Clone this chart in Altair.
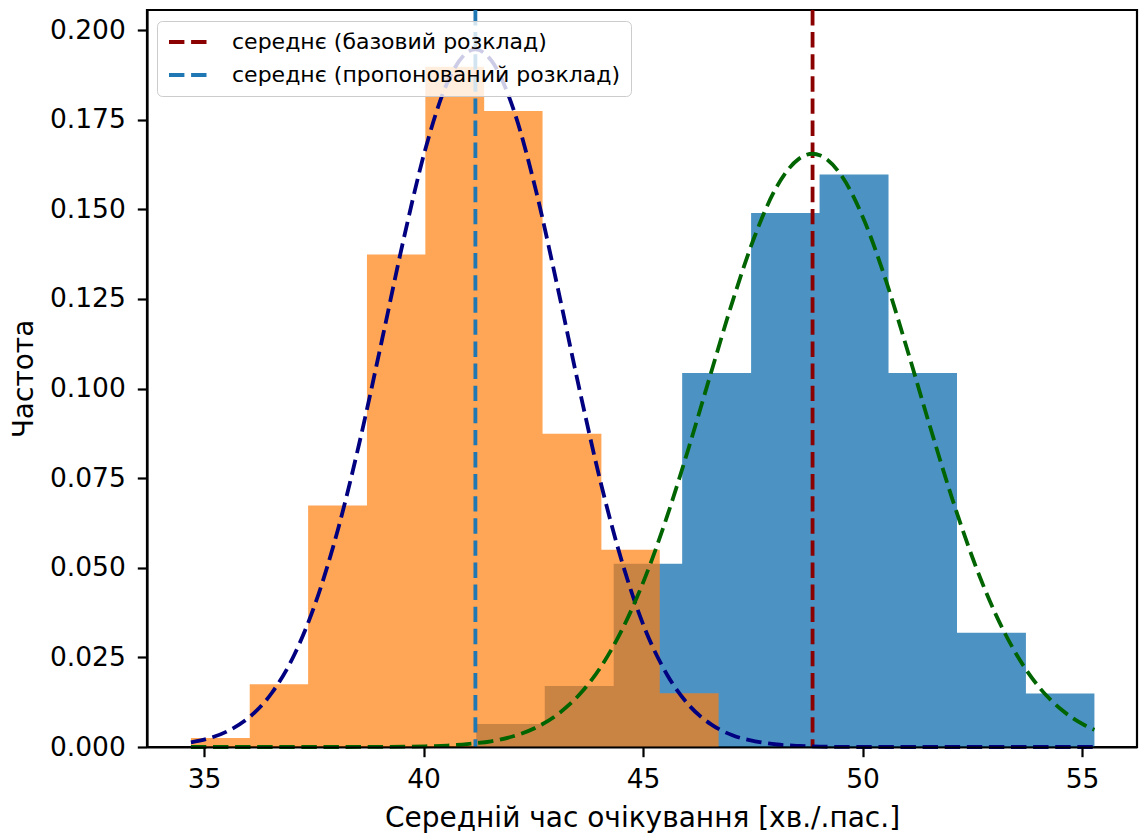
import altair as alt
import pandas as pd

# ---- data ----
base_label = "середнє (базовий розклад)"
prop_label = "середнє (пропонований розклад)"

# histogram of base schedule (blue) – bin edges and density heights
base_edges = [41.20, 42.76, 44.33, 45.89, 47.46, 49.02, 50.59, 52.15, 53.72, 55.28]
base_density = [0.0064, 0.0170, 0.0511, 0.1043, 0.1490, 0.1597, 0.1043, 0.0319, 0.0149]

# histogram of proposed schedule (orange)
prop_edges = [34.70, 36.04, 37.37, 38.71, 40.04, 41.38, 42.71, 44.05, 45.38, 46.72]
prop_density = [0.0025, 0.0175, 0.0674, 0.1374, 0.1898, 0.1774, 0.0874, 0.0550, 0.0150]

# means
base_mean = 48.86
prop_mean = 41.18

# fitted curve, proposed (navy)
prop_fit_x = [34.70, 35.05, 35.55, 36.05, 36.55, 37.05, 37.55, 38.05, 38.55, 39.05,
              39.55, 40.05, 40.55, 41.05, 41.18, 41.55, 42.05, 42.55, 43.05, 43.55,
              44.05, 44.55, 45.05, 45.55, 46.05, 46.55, 47.05, 47.55, 48.05, 48.55,
              49.05, 50.0, 51.0, 52.0, 53.0, 54.0, 55.28]
prop_fit_y = [0.0013, 0.0022, 0.0045, 0.0085, 0.0152, 0.0256, 0.0406, 0.0607, 0.0855, 0.1134,
              0.1419, 0.1672, 0.1856, 0.1942, 0.1946, 0.1914, 0.1778, 0.1557, 0.1284, 0.0998,
              0.0730, 0.0504, 0.0327, 0.0201, 0.0116, 0.0063, 0.0032, 0.0016, 0.0007, 0.0003,
              0.0001, 0.0, 0.0, 0.0, 0.0, 0.0, 0.0]

# fitted curve, base (green)
base_fit_x = [34.70, 36.0, 37.0, 38.0, 39.04, 40.04, 40.54, 41.04, 41.54, 42.04,
              42.54, 43.04, 43.54, 44.04, 44.54, 45.04, 45.54, 46.04, 46.54, 47.04,
              47.54, 48.04, 48.54, 48.86, 49.04, 49.54, 50.04, 50.54, 51.04, 51.54,
              52.04, 52.54, 53.04, 53.54, 54.04, 54.54, 55.04, 55.28]
base_fit_y = [0.0, 0.0, 0.0, 0.0, 0.00004, 0.0002, 0.0004, 0.0009, 0.0016, 0.0030,
              0.0053, 0.0090, 0.0145, 0.0224, 0.0332, 0.0471, 0.0641, 0.0835, 0.1041, 0.1244,
              0.1424, 0.1562, 0.1640, 0.1655, 0.1650, 0.1590, 0.1468, 0.1298, 0.1099, 0.0892,
              0.0693, 0.0516, 0.0368, 0.0251, 0.0164, 0.0103, 0.0062, 0.0048]

x_ticks = [35, 40, 45, 50, 55]
y_ticks = [0.0, 0.025, 0.05, 0.075, 0.1, 0.125, 0.15, 0.175, 0.2]

# ---- tables (histograms as single step outlines, so no seams between bins) ----
base_hist = pd.DataFrame({"x": base_edges, "h": base_density + [base_density[-1]]})
prop_hist = pd.DataFrame({"x": prop_edges, "h": prop_density + [prop_density[-1]]})
prop_fit = pd.DataFrame({"x": prop_fit_x, "y": prop_fit_y})
base_fit = pd.DataFrame({"x": base_fit_x, "y": base_fit_y})
means = pd.DataFrame({"mean": [base_mean, prop_mean], "label": [base_label, prop_label]})

FONT = "DejaVu Sans"
DASH = [15.4, 6.7]
LW = 3.8

xscale = alt.Scale(domain=[33.70, 56.25], nice=False, zero=False)
yscale = alt.Scale(domain=[0, 0.2056], nice=False, zero=False)

xaxis = alt.Axis(
    values=x_ticks, title="Середній час очікування [хв./.пас.]", grid=False,
    labelFontSize=26.5, titleFontSize=28, labelFont=FONT, titleFont=FONT,
    labelColor="black", titleColor="black", titleFontWeight="normal",
    tickSize=9.7, tickWidth=2.2, tickColor="black", domainColor="black", domainWidth=2.2,
    labelPadding=10, titleX=495, titleY=79, titleBaseline="alphabetic", titleAlign="center",
    zindex=1,
)
yaxis = alt.Axis(
    values=y_ticks, format=".3f", title="Частота", grid=False,
    labelFontSize=26.5, titleFontSize=28, labelFont=FONT, titleFont=FONT,
    labelColor="black", titleColor="black", titleFontWeight="normal",
    tickSize=9.7, tickWidth=2.2, tickColor="black", domainColor="black", domainWidth=2.2,
    labelPadding=12, titleX=-115, titleY=368.5, titleAngle=270,
    titleBaseline="alphabetic", titleAlign="center", zindex=1,
)

base_bars = alt.Chart(base_hist).mark_area(
    color="#1f77b4", opacity=0.8, interpolate="step-after"
).encode(
    x=alt.X("x:Q", scale=xscale, axis=xaxis),
    y=alt.Y("h:Q", scale=yscale, axis=yaxis),
    y2=alt.datum(0),
)
prop_bars = alt.Chart(prop_hist).mark_area(
    color="#ff7f0e", opacity=0.7, interpolate="step-after"
).encode(
    x=alt.X("x:Q", scale=xscale, axis=xaxis),
    y=alt.Y("h:Q", scale=yscale, axis=yaxis),
    y2=alt.datum(0),
)

mean_rules = alt.Chart(means).mark_rule(strokeDash=DASH, strokeWidth=LW).encode(
    x=alt.X("mean:Q", scale=xscale, axis=xaxis),
    color=alt.Color(
        "label:N",
        scale=alt.Scale(domain=[base_label, prop_label], range=["#8b0000", "#1f77b4"]),
        legend=alt.Legend(
            title=None, orient="none", legendX=10, legendY=11,
            symbolType="stroke", symbolSize=1444, symbolStrokeWidth=LW, symbolDash=DASH,
            labelFontSize=22, labelFont=FONT, labelColor="black", labelLimit=0,
            labelOffset=23, fillColor="rgba(255,255,255,0.8)", strokeColor="#cccccc",
            cornerRadius=5, padding=10, rowPadding=11, clipHeight=22,
        ),
    ),
)

prop_curve = alt.Chart(prop_fit).mark_line(
    color="#000080", strokeDash=DASH, strokeWidth=LW, interpolate="monotone"
).encode(
    x=alt.X("x:Q", scale=xscale, axis=xaxis),
    y=alt.Y("y:Q", scale=yscale, axis=yaxis),
)
base_curve = alt.Chart(base_fit).mark_line(
    color="#006400", strokeDash=DASH, strokeWidth=LW, interpolate="monotone"
).encode(
    x=alt.X("x:Q", scale=xscale, axis=xaxis),
    y=alt.Y("y:Q", scale=yscale, axis=yaxis),
)

chart = alt.layer(
    base_bars, prop_bars, mean_rules, prop_curve, base_curve
).properties(
    width=990, height=737,
    autosize=alt.AutoSizeParams(type="none"),
    padding={"left": 147, "top": 10, "right": 2, "bottom": 87},
    background="white",
).configure_view(stroke="black", strokeWidth=2.2)

chart.save("out.html", embed_options={"renderer": "svg", "actions": False})
